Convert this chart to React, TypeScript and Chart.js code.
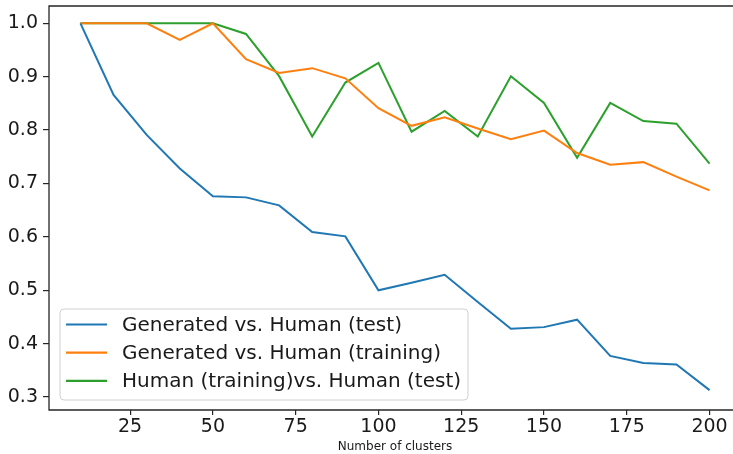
import React, { useEffect, useRef } from "react";
import { Chart, registerables } from "chart.js";

Chart.register(...registerables);

const clusters = [10, 20, 30, 40, 50, 60, 70, 80, 90, 100, 110, 120, 130, 140, 150, 160, 170, 180, 190, 200];
const genVsHumanTest = [1.0, 0.866, 0.791, 0.728, 0.676, 0.674, 0.659, 0.609, 0.601, 0.500, 0.514, 0.529, 0.478, 0.428, 0.431, 0.445, 0.377, 0.364, 0.361, 0.313];
const genVsHumanTraining = [1.0, 1.0, 1.0, 0.969, 1.0, 0.933, 0.907, 0.916, 0.897, 0.841, 0.808, 0.824, 0.803, 0.783, 0.799, 0.757, 0.735, 0.740, 0.713, 0.687];
const humanVsHuman = [1.0, 1.0, 1.0, 1.0, 1.0, 0.980, 0.901, 0.788, 0.889, 0.926, 0.797, 0.836, 0.788, 0.901, 0.851, 0.748, 0.851, 0.817, 0.812, 0.737];
const seriesLabels = [
  "Generated vs. Human (test)",
  "Generated vs. Human (training)",
  "Human (training)vs. Human (test)",
];
const xTicks = [25, 50, 75, 100, 125, 150, 175, 200];
const yTicks = [0.3, 0.4, 0.5, 0.6, 0.7, 0.8, 0.9, 1.0];
const xTitle = "Number of clusters";

const FONT = "'DejaVu Sans', sans-serif";

export default function App() {
  const ref = useRef<HTMLCanvasElement | null>(null);
  useEffect(() => {
    if (!ref.current) return;
    const colors = ["#1f77b4", "#ff7f0e", "#2ca02c"];
    const series = [genVsHumanTest, genVsHumanTraining, humanVsHuman];
    const frameAndLegend = {
      id: "frameAndLegend",
      afterDraw(chart: any) {
        const ctx = chart.ctx;
        const a = chart.chartArea;
        ctx.save();
        ctx.strokeStyle = "#262626";
        ctx.lineWidth = 1.3;
        ctx.beginPath();
        ctx.moveTo(chart.width, a.top);
        ctx.lineTo(a.left, a.top);
        ctx.lineTo(a.left, a.bottom);
        ctx.lineTo(chart.width, a.bottom);
        ctx.stroke();
        // legend
        const bx = 60, by = 309, bw = 408, bh = 91, r = 4;
        ctx.beginPath();
        ctx.moveTo(bx + r, by);
        ctx.lineTo(bx + bw - r, by);
        ctx.quadraticCurveTo(bx + bw, by, bx + bw, by + r);
        ctx.lineTo(bx + bw, by + bh - r);
        ctx.quadraticCurveTo(bx + bw, by + bh, bx + bw - r, by + bh);
        ctx.lineTo(bx + r, by + bh);
        ctx.quadraticCurveTo(bx, by + bh, bx, by + bh - r);
        ctx.lineTo(bx, by + r);
        ctx.quadraticCurveTo(bx, by, bx + r, by);
        ctx.closePath();
        ctx.fillStyle = "rgba(255,255,255,0.85)";
        ctx.fill();
        ctx.strokeStyle = "#d0d0d0";
        ctx.lineWidth = 1;
        ctx.stroke();
        chart.data.datasets.forEach((ds: any, i: number) => {
          const y = 324.5 + i * 28.2;
          ctx.strokeStyle = ds.borderColor;
          ctx.lineWidth = 2.2;
          ctx.beginPath();
          ctx.moveTo(66, y);
          ctx.lineTo(107, y);
          ctx.stroke();
          ctx.fillStyle = "#1a1a1a";
          ctx.font = `20px ${FONT}`;
          ctx.textBaseline = "middle";
          ctx.textAlign = "left";
          ctx.fillText(ds.label, 122, y + 1);
        });
        ctx.restore();
      },
    };
    const chart = new Chart(ref.current, {
      type: "line",
      data: {
        datasets: series.map((s, i) => ({
          label: seriesLabels[i],
          data: clusters.map((c, j) => ({ x: c, y: s[j] })),
          borderColor: colors[i],
          backgroundColor: colors[i],
          borderWidth: 2,
          pointRadius: 0,
          tension: 0,
          fill: false,
        })),
      },
      options: {
        animation: false,
        responsive: false,
        devicePixelRatio: 1,
        layout: { padding: { top: 6, right: 4, left: 0, bottom: 0 } },
        plugins: { legend: { display: false }, tooltip: { enabled: false } },
        scales: {
          x: {
            type: "linear",
            min: 0.5,
            max: 209.5,
            afterBuildTicks: (scale: any) => {
              scale.ticks = xTicks.map((v) => ({ value: v }));
            },
            afterFit: (scale: any) => {
              scale.height = 44;
              scale.paddingLeft = 0;
              scale.paddingRight = 0;
            },
            border: { display: false },
            grid: { drawOnChartArea: false, drawTicks: true, tickLength: 5, color: "#262626", lineWidth: 1.2 },
            ticks: {
              autoSkip: false,
              maxRotation: 0,
              padding: 1,
              color: "#1a1a1a",
              font: { family: FONT, size: 19 },
              callback: (v: any) => String(v),
            },
            title: {
              display: true,
              text: xTitle,
              color: "#1a1a1a",
              font: { family: FONT, size: 12 },
              padding: { top: 0, bottom: 0 },
            },
          },
          y: {
            type: "linear",
            min: 0.2758,
            max: 1.0324,
            afterBuildTicks: (scale: any) => {
              scale.ticks = yTicks.map((v) => ({ value: v }));
            },
            afterFit: (scale: any) => {
              scale.width = 49;
              scale.paddingTop = 0;
              scale.paddingBottom = 0;
            },
            border: { display: false },
            grid: { drawOnChartArea: false, drawTicks: true, tickLength: 6, color: "#262626", lineWidth: 1.2 },
            ticks: {
              autoSkip: false,
              padding: 5,
              color: "#1a1a1a",
              font: { family: FONT, size: 19 },
              callback: (v: any) => Number(v).toFixed(1),
            },
          },
        },
      },
      plugins: [frameAndLegend],
    });
    return () => chart.destroy();
  }, []);
  return (
    <div style={{ position: "fixed", left: 0, top: 0, width: 733, height: 454, overflow: "hidden", background: "#fff" }}>
      <canvas ref={ref} width={745} height={454} style={{ display: "block" }} />
    </div>
  );
}
